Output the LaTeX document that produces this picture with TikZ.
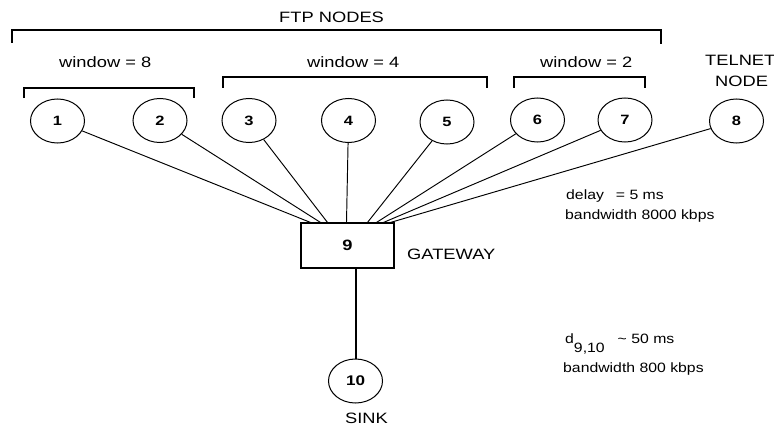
\documentclass[tikz,border=0pt]{standalone}
\usepackage{fontspec}
\setmainfont{Liberation Sans}[FakeStretch=1.22]
\newfontfamily\notefont{Liberation Sans}[FakeStretch=1.17]
\usetikzlibrary{shapes.geometric,calc}

\begin{document}
\begin{tikzpicture}[x=1pt,y=-1pt,
  host/.style={draw,ellipse,line width=1pt,minimum width=54pt,minimum height=44pt,
    inner sep=0pt,font=\fontsize{13.5}{15}\selectfont\bfseries},
  gatebox/.style={draw,rectangle,line width=1.1pt,minimum width=93pt,minimum height=45pt,
    inner sep=0pt,font=\fontsize{15}{17}\selectfont\bfseries},
  sinknode/.style={host,font=\fontsize{14}{16}\selectfont\bfseries},
  label/.style={anchor=base west,inner sep=0pt,font=\fontsize{15}{17}\selectfont},
  note/.style={anchor=base west,inner sep=0pt,font=\notefont\fontsize{13.5}{16}\selectfont},
  link/.style={line width=0.95pt},
  trunk/.style={line width=2pt},
  brace/.style={line width=2pt}]

\useasboundingbox (0,0) rectangle (774,428);

% hosts
\node[host] (n1) at (57.5,121) {1};
\node[host] (n2) at (160,120.5) {2};
\node[host] (n3) at (249,120.5) {3};
\node[host] (n4) at (348.5,120.5) {4};
\node[host] (n5) at (447,122) {5};
\node[host] (n6) at (537.5,120) {6};
\node[host] (n7) at (625,120) {7};
\node[host] (n8) at (736.5,121) {8};

% gateway and sink
\node[gatebox] (g) at (347.5,245.5) {9};
\node[sinknode] (n10) at (355.5,381) {10};

% attachment points on the gateway's top edge
\coordinate (p1) at ($(g.north)+(-37,0)$);
\coordinate (p2) at ($(g.north)+(-27,0)$);
\coordinate (p3) at ($(g.north)+(-20,0)$);
\coordinate (p4) at ($(g.north)+(-1,0)$);
\coordinate (p5) at ($(g.north)+(20,0)$);
\coordinate (p6) at ($(g.north)+(29,0)$);
\coordinate (p7) at ($(g.north)+(36,0)$);
\coordinate (p8) at ($(g.north)+(43,0)$);

\foreach \i in {1,...,8} \draw[link] (n\i) -- (p\i);
\draw[trunk] (n10.north) -- (n10.north |- g.south);

% groupings
\draw[brace] (12,43) -- (12,30) -- (661,30) -- (661,44);
\draw[brace] (24,98) -- (24,88) -- (194,88) -- (194,98);
\draw[brace] (223,88) -- (223,77) -- (487,77) -- (487,88);
\draw[brace] (514,88) -- (514,77) -- (645,77) -- (645,88);

% labels
\node[label] (ftp) at (279,23) {FTP NODES};
\node[label] (w8) at (59,67) {window = 8};
\node[label] (w4) at (307,67) {window = 4};
\node[label] (w2) at (540,67) {window = 2};
\node[label] (tel1) at (705,66) {TELNET};
\node[label] (tel2) at (715,86) {NODE};
\node[label] (gw) at (407,259) {GATEWAY};
\node[label] (sink) at (345,423) {SINK};

\node[note] (dl1) at (566,199) {delay\hspace{12pt}= 5 ms};
\node[note] (bw1) at (565,219) {bandwidth 8000 kbps};
\node[note] (dl2) at (565,343) {d\raisebox{-9pt}{9,10}\hspace{13pt}\textasciitilde{} 50 ms};
\node[note] (bw2) at (563,372) {bandwidth 800 kbps};
\end{tikzpicture}
\end{document}
